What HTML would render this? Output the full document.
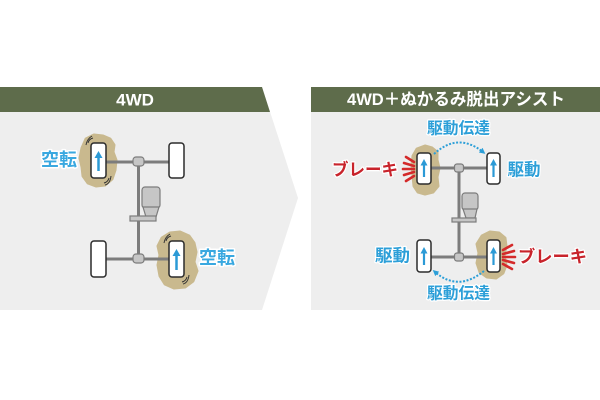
<!DOCTYPE html>
<html>
<head>
<meta charset="utf-8">
<style>
  html,body{margin:0;padding:0;background:#fff;}
  svg{display:block;}
  text{font-family:"Liberation Sans","Noto Sans CJK JP",sans-serif;font-weight:bold;}
</style>
</head>
<body>
<svg width="600" height="400" viewBox="0 0 600 400" xmlns="http://www.w3.org/2000/svg">
  <defs>
    <marker id="ah" markerWidth="6" markerHeight="6" refX="3" refY="3" orient="auto" markerUnits="userSpaceOnUse">
      <path d="M0,0 L6,3 L0,6 Z" fill="#2c9fd8"/>
    </marker>
  </defs>
  <rect width="600" height="400" fill="#fff"/>

  <!-- LEFT PANEL -->
  <polygon points="0,87 262,87 298,198 262,310 0,310" fill="#eeeeee"/>
  <polygon points="0,87 262,87 270,112 0,112" fill="#5e6c4b"/>
  <text x="135" y="100" font-size="17" fill="#fff" text-anchor="middle" dominant-baseline="central">4WD</text>

  <!-- mud -->
  <polygon points="86,139 94,135 103,136 110,139 114,145 113,152 116,160 115,170 112,179 105,185 96,186 88,183 83,176 82,167 80,158 82,148" fill="#c9b98e" stroke="#c9b98e" stroke-width="3" stroke-linejoin="round"/>
  <polygon points="162,238 170,233 180,232 189,236 194,243 196,252 194,262 197,271 193,281 185,287 174,288 165,284 160,276 158,265 160,255 158,246" fill="#c9b98e" stroke="#c9b98e" stroke-width="3" stroke-linejoin="round"/>

  <!-- drivetrain -->
  <g stroke="#7c7c7c" stroke-width="3" fill="none">
    <line x1="106" y1="162" x2="169" y2="162"/>
    <line x1="106" y1="259" x2="169" y2="259"/>
    <line x1="138.5" y1="162" x2="138.5" y2="259"/>
  </g>
  <rect x="142" y="187" width="18" height="21" rx="3" fill="#c6c6c6" stroke="#7c7c7c" stroke-width="1.2"/>
  <polygon points="143,207 159,207 156,217 146,217" fill="#c6c6c6" stroke="#7c7c7c" stroke-width="1.2"/>
  <rect x="130" y="216" width="26" height="5" fill="#c6c6c6" stroke="#7c7c7c" stroke-width="1.2"/>
  <rect x="133" y="157" width="11" height="9" rx="3" fill="#c6c6c6" stroke="#7c7c7c" stroke-width="1.2"/>
  <rect x="133" y="254" width="11" height="9" rx="3" fill="#c6c6c6" stroke="#7c7c7c" stroke-width="1.2"/>

  <!-- wheels -->
  <g fill="#fff" stroke="#2b2b2b" stroke-width="1.5">
    <rect x="91" y="143" width="15" height="35" rx="3"/>
    <rect x="169" y="143" width="15" height="35" rx="3"/>
    <rect x="91" y="241" width="15" height="36" rx="3"/>
    <rect x="169" y="241" width="15" height="36" rx="3"/>
  </g>
  <!-- spin marks -->
  <g stroke="#333" stroke-width="1" fill="none">
    <path d="M88,143 Q89,139 93,138"/>
    <path d="M86,145 Q87,139 92,136"/>
    <path d="M109,178 Q108,182 104,183"/>
    <path d="M111,176 Q110,184 105,185"/>
    <path d="M166,241 Q167,237 171,236"/>
    <path d="M164,243 Q165,237 170,234"/>
    <path d="M187,277 Q186,281 182,282"/>
    <path d="M189,275 Q188,283 183,284"/>
  </g>
  <!-- blue arrows -->
  <g stroke="#2b9ad6" stroke-width="2.5">
    <line x1="98.5" y1="171" x2="98.5" y2="157"/>
    <line x1="176.5" y1="270" x2="176.5" y2="255"/>
  </g>
  <polygon points="98.5,151 94.5,158 102.5,158" fill="#2b9ad6"/>
  <polygon points="176.5,249 172.5,256 180.5,256" fill="#2b9ad6"/>

  <g font-size="18" fill="#39a8e0" stroke="#fff" stroke-width="3" paint-order="stroke" stroke-linejoin="round">
    <text x="59" y="160" text-anchor="middle" dominant-baseline="central">空転</text>
    <text x="217" y="258" text-anchor="middle" dominant-baseline="central">空転</text>
  </g>

  <!-- RIGHT PANEL -->
  <rect x="311" y="87" width="289" height="223" fill="#eeeeee"/>
  <rect x="311" y="87" width="289" height="25" fill="#5e6c4b"/>
  <text x="456" y="99.5" font-size="17" fill="#fff" text-anchor="middle" dominant-baseline="central" textLength="218" lengthAdjust="spacingAndGlyphs">4WD＋ぬかるみ脱出アシスト</text>

  <!-- mud -->
  <polygon points="417,149 425,146 432,148 437,152 437,160 439,168 437,177 438,186 433,192 425,194 418,192 414,186 413,176 412,165 413,156" fill="#c9b98e" stroke="#c9b98e" stroke-width="3" stroke-linejoin="round"/>
  <polygon points="482,236 490,232 499,233 505,238 506,246 504,255 506,265 503,273 496,278 487,277 480,272 477,263 479,253 477,244" fill="#c9b98e" stroke="#c9b98e" stroke-width="3" stroke-linejoin="round"/>

  <!-- drivetrain -->
  <g stroke="#7c7c7c" stroke-width="3" fill="none">
    <line x1="431" y1="168" x2="487" y2="168"/>
    <line x1="431" y1="257" x2="487" y2="257"/>
    <line x1="459" y1="168" x2="459" y2="257"/>
  </g>
  <rect x="462" y="193" width="16" height="17" rx="3" fill="#c6c6c6" stroke="#7c7c7c" stroke-width="1.2"/>
  <polygon points="463,209 477,209 475,218 466,218" fill="#c6c6c6" stroke="#7c7c7c" stroke-width="1.2"/>
  <rect x="452" y="218" width="24" height="4" fill="#c6c6c6" stroke="#7c7c7c" stroke-width="1.2"/>
  <rect x="454.5" y="164" width="9" height="8" rx="2.5" fill="#c6c6c6" stroke="#7c7c7c" stroke-width="1.2"/>
  <rect x="454.5" y="253" width="9" height="8" rx="2.5" fill="#c6c6c6" stroke="#7c7c7c" stroke-width="1.2"/>

  <!-- wheels -->
  <g fill="#fff" stroke="#2b2b2b" stroke-width="1.5">
    <rect x="417" y="153" width="14" height="31" rx="3"/>
    <rect x="487" y="153" width="13" height="31" rx="3"/>
    <rect x="417" y="240" width="14" height="32" rx="3"/>
    <rect x="487" y="240" width="13" height="32" rx="3"/>
  </g>
  <!-- blue arrows -->
  <g stroke="#2b9ad6" stroke-width="2.2">
    <line x1="424" y1="177" x2="424" y2="165"/>
    <line x1="493.5" y1="177" x2="493.5" y2="165"/>
    <line x1="424" y1="265" x2="424" y2="253"/>
    <line x1="493.5" y1="265" x2="493.5" y2="253"/>
  </g>
  <g fill="#2b9ad6">
    <polygon points="424,159 420.5,165.5 427.5,165.5"/>
    <polygon points="493.5,159 490,165.5 497,165.5"/>
    <polygon points="424,247 420.5,253.5 427.5,253.5"/>
    <polygon points="493.5,247 490,253.5 497,253.5"/>
  </g>

  <!-- brake bursts -->
  <g stroke="#d42a2a" stroke-width="2.6" stroke-linecap="round">
    <line x1="406" y1="157" x2="414" y2="162"/>
    <line x1="404" y1="163" x2="414" y2="166"/>
    <line x1="403" y1="169" x2="414" y2="169"/>
    <line x1="404" y1="175" x2="414" y2="172"/>
    <line x1="406" y1="181" x2="414" y2="176"/>
    <line x1="512" y1="245" x2="503" y2="250"/>
    <line x1="514" y1="251" x2="503" y2="254"/>
    <line x1="515" y1="257" x2="503" y2="257"/>
    <line x1="514" y1="263" x2="503" y2="260"/>
    <line x1="512" y1="269" x2="503" y2="264"/>
  </g>

  <!-- dashed transfer arcs -->
  <path d="M434,154 Q458,132 483,152" fill="none" stroke="#2c9fd8" stroke-width="2" stroke-dasharray="2 1.6" marker-end="url(#ah)"/>
  <path d="M484,271 Q458,292 435,272" fill="none" stroke="#2c9fd8" stroke-width="2" stroke-dasharray="2 1.6" marker-end="url(#ah)"/>

  <!-- labels -->
  <g font-size="16" fill="#2c9fd8" stroke="#fff" stroke-width="2.5" paint-order="stroke" stroke-linejoin="round">
    <text x="458.5" y="129" text-anchor="middle" dominant-baseline="central" textLength="63" lengthAdjust="spacingAndGlyphs">駆動伝達</text>
    <text x="458.5" y="294" text-anchor="middle" dominant-baseline="central" textLength="63" lengthAdjust="spacingAndGlyphs">駆動伝達</text>
    <text x="524" y="170" font-size="17" text-anchor="middle" dominant-baseline="central" textLength="33" lengthAdjust="spacingAndGlyphs">駆動</text>
    <text x="392.5" y="256" font-size="17" text-anchor="middle" dominant-baseline="central" textLength="35" lengthAdjust="spacingAndGlyphs">駆動</text>
  </g>
  <g font-size="17" fill="#c8232b" stroke="#fff" stroke-width="2.5" paint-order="stroke" stroke-linejoin="round">
    <text x="365" y="170" text-anchor="middle" dominant-baseline="central" textLength="66" lengthAdjust="spacingAndGlyphs">ブレーキ</text>
    <text x="552.5" y="257" text-anchor="middle" dominant-baseline="central" textLength="69" lengthAdjust="spacingAndGlyphs">ブレーキ</text>
  </g>
</svg>
</body>
</html>
